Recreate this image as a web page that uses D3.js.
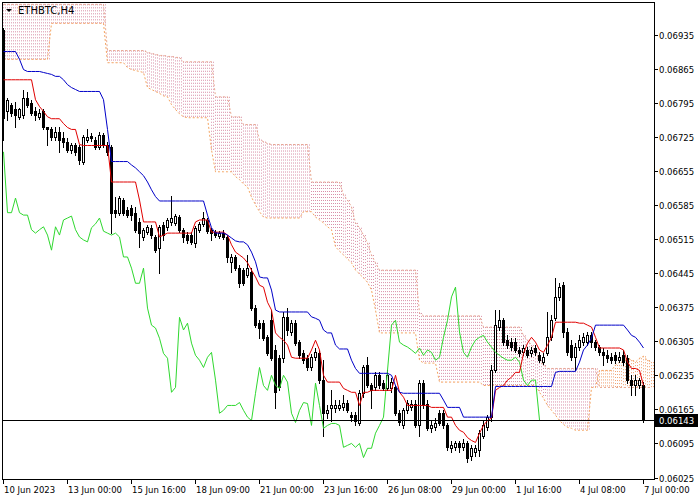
<!DOCTYPE html>
<html><head><meta charset="utf-8">
<script src="https://cdn.jsdelivr.net/npm/d3@7"></script>
<style>html,body{margin:0;padding:0;background:#fff;}svg{display:block;}</style>
</head><body><svg id="c" width="700" height="500"></svg>
<script>
// ---- data (prices in 1e-5 BTC points) ----
const symbol = "ETHBTC,H4";
const bidPts = 6143;
const yTickPts = [6025,6095,6165,6235,6305,6375,6445,6515,6585,6655,6725,6795,6865,6935];
const xTickBars = [0,16,32,48,64,80,96,112,128,144,160];
const xTickLabels = ["10 Jun 2023","13 Jun 00:00","15 Jun 16:00","18 Jun 09:00","21 Jun 00:00","23 Jun 16:00","26 Jun 08:00","29 Jun 00:00","1 Jul 16:00","4 Jul 08:00","7 Jul 00:00"];

const openPts = [6945,6777,6791,6781,6766,6770,6805,6795,6777,6766,
6777,6744,6740,6725,6735,6723,6715,6698,6709,6704,
6674,6719,6727,6719,6704,6729,6709,6704,6575,6569,
6595,6575,6579,6569,6550,6519,6529,6538,6519,6496,
6544,6540,6550,6548,6560,6534,6523,6523,6507,6534,
6546,6554,6534,6529,6521,6527,6519,6468,6478,6455,
6451,6441,6447,6373,6342,6342,6313,6348,6287,6270,
6270,6354,6324,6342,6303,6280,6270,6251,6272,6280,
6225,6157,6167,6167,6167,6169,6179,6153,6153,6136,
6198,6256,6214,6210,6235,6219,6208,6208,6210,6157,
6132,6163,6169,6177,6132,6219,6177,6126,6128,6157,
6157,6132,6085,6087,6095,6087,6095,6070,6077,6081,
6111,6128,6149,6245,6334,6348,6307,6303,6303,6287,
6282,6287,6280,6291,6276,6262,6280,6313,6352,6396,
6420,6324,6297,6272,6293,6303,6303,6317,6303,6293,
6282,6276,6272,6276,6266,6276,6270,6225,6214,6214,
6214];
const highPts = [6949,6805,6795,6797,6785,6822,6816,6801,6787,6781,
6781,6746,6746,6744,6746,6735,6723,6713,6713,6709,
6729,6740,6733,6725,6735,6733,6715,6709,6601,6603,
6599,6581,6585,6581,6558,6538,6544,6544,6523,6544,
6550,6558,6603,6566,6564,6538,6529,6529,6542,6550,
6571,6558,6538,6534,6531,6534,6523,6484,6482,6461,
6455,6482,6455,6379,6348,6348,6317,6369,6297,6276,
6365,6373,6348,6348,6307,6287,6276,6278,6291,6287,
6266,6173,6204,6184,6184,6194,6184,6159,6159,6204,
6256,6272,6219,6241,6241,6225,6245,6229,6214,6163,
6167,6184,6184,6184,6225,6225,6184,6142,6147,6163,
6163,6136,6101,6101,6101,6105,6101,6091,6091,6122,
6142,6153,6256,6369,6369,6352,6317,6311,6311,6293,
6297,6293,6293,6297,6282,6280,6365,6359,6435,6424,
6426,6332,6307,6301,6317,6321,6324,6324,6307,6297,
6291,6287,6280,6282,6282,6287,6276,6235,6235,6229,
6221];
const lowPts = [6719,6760,6768,6746,6762,6764,6787,6770,6760,6762,
6740,6709,6719,6719,6694,6704,6694,6692,6688,6669,
6669,6715,6717,6700,6700,6704,6688,6527,6560,6564,
6564,6560,6554,6529,6499,6513,6525,6517,6488,6445,
6513,6534,6544,6544,6529,6509,6507,6505,6499,6529,
6542,6527,6513,6519,6517,6515,6468,6447,6451,6416,
6420,6437,6369,6334,6311,6307,6276,6266,6167,6204,
6262,6317,6317,6297,6270,6260,6245,6245,6266,6219,
6111,6147,6142,6159,6163,6163,6159,6142,6132,6132,
6190,6210,6167,6204,6208,6204,6204,6200,6153,6132,
6126,6157,6163,6128,6111,6167,6122,6118,6122,6132,
6126,6081,6077,6081,6077,6081,6056,6060,6070,6070,
6107,6122,6142,6241,6328,6297,6291,6287,6282,6274,
6276,6272,6274,6276,6262,6258,6276,6307,6348,6389,
6313,6276,6266,6245,6287,6297,6297,6293,6287,6276,
6256,6262,6260,6260,6262,6256,6219,6194,6194,6208,
6138];
const closePts = [6764,6801,6774,6770,6781,6805,6791,6774,6770,6774,
6744,6740,6725,6735,6719,6715,6698,6707,6694,6678,
6725,6725,6723,6704,6729,6709,6694,6569,6569,6599,
6569,6564,6564,6534,6527,6534,6540,6523,6492,6540,
6523,6554,6558,6562,6534,6519,6513,6509,6538,6546,
6558,6531,6527,6523,6527,6519,6478,6478,6455,6424,
6424,6455,6373,6338,6332,6311,6280,6270,6200,6210,
6354,6328,6342,6301,6276,6266,6251,6272,6282,6225,
6157,6163,6173,6173,6173,6179,6163,6149,6142,6198,
6251,6214,6204,6235,6214,6208,6235,6221,6157,6138,
6163,6179,6177,6132,6219,6173,6126,6132,6136,6136,
6132,6087,6091,6095,6087,6095,6066,6085,6085,6116,
6132,6149,6245,6338,6348,6303,6297,6293,6287,6280,
6291,6276,6287,6282,6266,6272,6313,6348,6396,6416,
6324,6282,6272,6293,6307,6313,6317,6303,6293,6282,
6276,6270,6266,6266,6272,6262,6225,6214,6225,6225,
6143];

// Tenkan-sen (red) and Kijun-sen (blue), per bar
const tenkanPts = [6842,6842,6842,6842,6842,6842,6842,6842,6801,6787,
6777,6766,6762,6762,6762,6752,6744,6740,6740,6709,
6707,6707,6707,6707,6707,6707,6707,6632,6632,6632,
6632,6632,6632,6632,6595,6550,6550,6550,6550,6519,
6523,6527,6527,6527,6527,6527,6527,6527,6550,6554,
6554,6554,6529,6529,6529,6529,6523,6503,6488,6482,
6476,6466,6451,6437,6420,6416,6385,6369,6322,6313,
6307,6297,6272,6270,6270,6270,6270,6287,6307,6287,
6235,6221,6221,6221,6221,6208,6204,6200,6200,6173,
6200,6200,6204,6204,6204,6204,6204,6204,6235,6200,
6190,6173,6173,6173,6173,6173,6173,6169,6169,6169,
6169,6149,6149,6132,6122,6118,6107,6101,6097,6116,
6132,6142,6147,6204,6210,6214,6225,6231,6241,6241,
6280,6301,6313,6303,6287,6282,6297,6313,6344,6344,
6344,6344,6344,6344,6342,6342,6338,6334,6313,6291,
6291,6291,6291,6291,6291,6287,6262,6249,6249,6245,
6214];
const kijunPts = [6900,6900,6900,6900,6884,6863,6859,6859,6859,6859,
6857,6855,6853,6849,6849,6842,6832,6826,6822,6818,
6818,6818,6818,6818,6818,6801,6740,6674,6674,6674,
6674,6674,6667,6661,6653,6645,6632,6616,6602,6593,
6593,6593,6593,6593,6593,6593,6593,6593,6593,6593,
6593,6564,6538,6527,6527,6527,6523,6517,6511,6509,
6509,6503,6488,6468,6437,6435,6435,6410,6369,6365,
6365,6365,6365,6365,6365,6365,6365,6355,6352,6348,
6328,6322,6322,6297,6289,6289,6289,6266,6249,6239,
6239,6239,6239,6239,6239,6239,6239,6235,6214,6200,
6198,6198,6198,6198,6198,6198,6198,6198,6198,6198,
6184,6169,6169,6169,6169,6149,6149,6149,6149,6149,
6149,6149,6149,6212,6212,6212,6212,6212,6212,6212,
6212,6212,6212,6212,6212,6212,6212,6212,6241,6243,
6243,6243,6243,6243,6262,6287,6297,6311,6338,6338,
6338,6338,6338,6338,6338,6338,6328,6317,6313,6303,
6291];
// Senkou Span A / B as plotted (already shifted 26 bars forward), bars 0..162
const spanAPts = [6884,6884,6884,6884,6884,6884,6884,6884,6884,6884,
6884,6884,6958,6958,6958,6958,6958,6958,6958,6958,
6958,6958,6958,6958,6958,6958,6877,6877,6877,6877,
6877,6867,6863,6861,6859,6857,6826,6822,6818,6814,
6809,6807,6791,6781,6772,6766,6764,6764,6764,6764,
6764,6764,6698,6653,6653,6653,6653,6653,6643,6637,
6628,6622,6601,6585,6571,6560,6558,6558,6558,6558,
6558,6558,6558,6558,6558,6571,6571,6571,6560,6554,
6548,6540,6534,6499,6490,6482,6474,6466,6451,6443,
6435,6426,6410,6369,6322,6322,6322,6322,6322,6322,
6322,6322,6322,6322,6266,6260,6260,6260,6260,6221,
6221,6221,6221,6221,6221,6221,6221,6221,6221,6221,
6214,6214,6214,6214,6214,6214,6214,6214,6214,6214,
6214,6214,6214,6214,6200,6188,6173,6163,6153,6142,
6134,6128,6126,6122,6122,6122,6122,6210,6210,6245,
6245,6245,6245,6256,6262,6266,6270,6266,6262,6270,
6274,6266,6262];
const spanBPts = [6997,6997,6997,6997,6997,6997,6997,6997,6997,6997,
6997,6997,6997,6997,6997,6997,6997,6997,6997,6997,
6997,6997,6997,6997,6997,6997,6902,6902,6902,6902,
6902,6902,6902,6902,6902,6902,6898,6896,6894,6892,
6892,6890,6890,6888,6888,6879,6879,6879,6879,6879,
6879,6879,6879,6807,6807,6807,6807,6766,6766,6766,
6750,6750,6750,6750,6719,6715,6711,6709,6709,6709,
6709,6709,6709,6709,6709,6709,6709,6632,6632,6632,
6632,6632,6632,6632,6632,6606,6595,6581,6548,6538,
6523,6507,6482,6466,6451,6451,6451,6451,6451,6451,
6451,6451,6451,6451,6363,6357,6357,6357,6357,6357,
6357,6357,6357,6357,6357,6357,6357,6357,6357,6357,
6334,6334,6334,6334,6334,6334,6334,6334,6334,6334,
6317,6307,6297,6282,6266,6256,6249,6249,6249,6249,
6249,6249,6249,6249,6249,6249,6249,6249,6249,6210,
6210,6210,6210,6210,6210,6210,6210,6210,6210,6210,
6210,6210,6210];
const chikouShift = 26; // lagging span: close plotted 26 bars back

// ---- drawing ----
const P = v => v / 1e5;
const svg = d3.select("#c");
const plotL = 2, plotR = 654, plotT = 2, plotB = 479;
const x = d3.scaleLinear().domain([0, 160]).range([3, 643]);
const y = d3.scaleLinear().domain([0.06025, 0.06935]).range([477.5, 34.5]);
const font = "'DejaVu Sans', Tahoma, Verdana, sans-serif";

svg.append("rect").attr("width",700).attr("height",500).attr("fill","#fff");
svg.append("defs").append("clipPath").attr("id","clip")
  .append("rect").attr("x",plotL+1).attr("y",plotT+1).attr("width",plotR-plotL-1).attr("height",plotB-plotT-1);
const g = svg.append("g").attr("clip-path","url(#clip)");

// cloud hatch
const cloud = g.append("g");
spanAPts.forEach((a, i) => {
  const b = spanBPts[i];
  const ya = y(P(a)), yb = y(P(b));
  const col = a >= b ? "#f0a070" : "#d890a8";
  [0, 2].forEach(dx => {
    const cx = x(i) + dx + 0.5;
    cloud.append("line").attr("x1",cx).attr("x2",cx)
      .attr("y1",Math.min(ya,yb)).attr("y2",Math.max(ya,yb))
      .attr("stroke",col).attr("stroke-width",1).attr("stroke-dasharray","1,2");
  });
});
const lineGen = d3.line().x((d,i)=>x(i)+0.5).y(d=>y(P(d)));
g.append("path").attr("d",lineGen(spanAPts)).attr("fill","none").attr("stroke","#f4a460").attr("stroke-dasharray","2,2");
g.append("path").attr("d",lineGen(spanBPts)).attr("fill","none").attr("stroke","#e8a890").attr("stroke-dasharray","2,2");

// candles
const bars = openPts.map((o,i)=>({i, o:P(o), h:P(highPts[i]), l:P(lowPts[i]), c:P(closePts[i])}));
const cg = g.append("g");
bars.forEach(d => {
  const cx = x(d.i);
  cg.append("line").attr("x1",cx+0.5).attr("x2",cx+0.5)
    .attr("y1",Math.round(y(d.h))).attr("y2",Math.round(y(d.l))+1)
    .attr("stroke","#000").attr("stroke-width",1);
  const top = Math.round(y(Math.max(d.o,d.c))), bot = Math.round(y(Math.min(d.o,d.c)));
  if (d.c < d.o) {
    cg.append("rect").attr("x",cx-1).attr("y",top).attr("width",3).attr("height",Math.max(1,bot-top+1)).attr("fill","#000");
  } else {
    cg.append("rect").attr("x",cx-0.5).attr("y",top+0.5).attr("width",2).attr("height",Math.max(0,bot-top))
      .attr("fill","#fff").attr("stroke","#000").attr("stroke-width",1);
  }
});

// Ichimoku lines
const chikou = closePts.slice(chikouShift);
g.append("path").attr("d",lineGen(chikou)).attr("fill","none").attr("stroke","#2fd82f").attr("stroke-width",1);
g.append("path").attr("d",lineGen(tenkanPts)).attr("fill","none").attr("stroke","#e00000").attr("stroke-width",1);
g.append("path").attr("d",lineGen(kijunPts)).attr("fill","none").attr("stroke","#0000c8").attr("stroke-width",1);

// bid line
const yBid = Math.round(y(P(bidPts))) + 0.5;
svg.append("line").attr("x1",plotL).attr("x2",plotR).attr("y1",yBid).attr("y2",yBid).attr("stroke","#000");

// frame
svg.append("rect").attr("x",plotL+0.5).attr("y",plotT+0.5).attr("width",plotR-plotL).attr("height",plotB-plotT)
  .attr("fill","none").attr("stroke","#000");

// right axis
const ra = svg.append("g");
yTickPts.forEach(v => {
  const yy = Math.round(y(P(v))) + 0.5;
  ra.append("line").attr("x1",plotR).attr("x2",plotR+4).attr("y1",yy).attr("y2",yy).attr("stroke","#000");
  ra.append("text").attr("x",plotR+5).attr("y",yy).attr("dy","0.36em")
    .attr("font-family",font).attr("font-size","8.5px").attr("fill","#000").text(d3.format(".5f")(P(v)));
});
// bid label
ra.append("rect").attr("x",plotR+1).attr("y",yBid-6.5).attr("width",43).attr("height",13).attr("fill","#000");
ra.append("text").attr("x",plotR+5).attr("y",yBid).attr("dy","0.36em")
  .attr("font-family",font).attr("font-size","8.5px").attr("fill","#fff").text(d3.format(".5f")(P(bidPts)));

// bottom axis
const ba = svg.append("g");
xTickBars.forEach((b, k) => {
  const xx = x(b) + 0.5;
  ba.append("line").attr("x1",xx).attr("x2",xx).attr("y1",plotB).attr("y2",plotB+5).attr("stroke","#000");
  ba.append("text").attr("x",xx+0.5).attr("y",493).attr("font-family",font).attr("font-size","8.5px")
    .attr("fill","#000").text(xTickLabels[k]);
});

// title
svg.append("path").attr("d","M6,9 L12,9 L9,12 Z").attr("fill","#000");
svg.append("text").attr("x",18).attr("y",14).attr("font-family",font).attr("font-size","10px").attr("fill","#000").text(symbol);
</script>
</body></html>
